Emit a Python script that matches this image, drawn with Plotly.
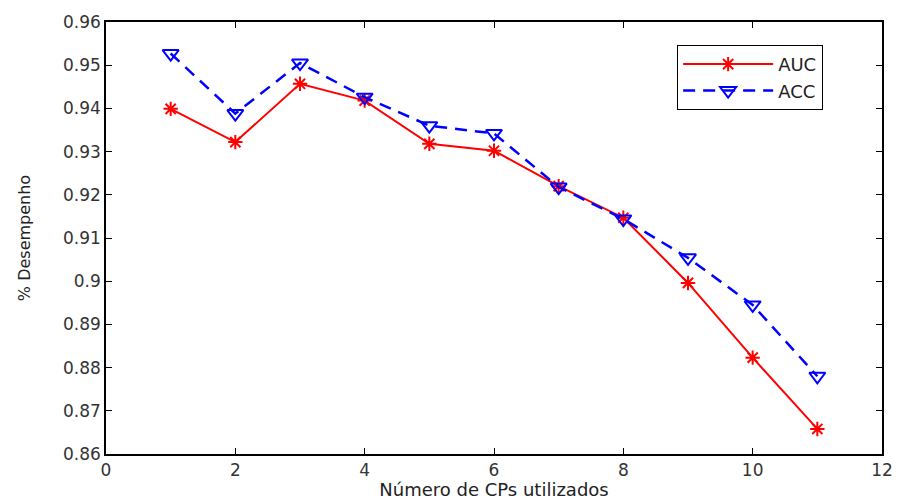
import plotly.graph_objects as go

n_cps = [1, 2, 3, 4, 5, 6, 7, 8, 9, 10, 11]
auc = [0.9399, 0.9322, 0.9457, 0.9418, 0.9318, 0.9302, 0.9220, 0.9147, 0.8996, 0.8823, 0.8658]
acc = [0.9527, 0.9388, 0.9505, 0.9426, 0.9360, 0.9342, 0.9218, 0.9144, 0.9054, 0.8945, 0.8780]

y_ticks = [0.86, 0.87, 0.88, 0.89, 0.90, 0.91, 0.92, 0.93, 0.94, 0.95, 0.96]
y_labels = ["0.86", "0.87", "0.88", "0.89", "0.9", "0.91", "0.92", "0.93", "0.94", "0.95", "0.96"]
x_ticks = [0, 2, 4, 6, 8, 10, 12]

font = "DejaVu Sans, Arial, sans-serif"

fig = go.Figure()
fig.add_trace(go.Scatter(
    x=n_cps, y=auc, name="AUC", mode="lines+markers",
    line=dict(color="#FF0000", width=2),
    marker=dict(symbol="asterisk-open", size=12, color="#FF0000",
                line=dict(color="#FF0000", width=2)),
))
fig.add_trace(go.Scatter(
    x=n_cps, y=acc, name="ACC", mode="lines+markers",
    line=dict(color="#0000FF", width=2.5, dash="12px,8px"),
    marker=dict(symbol="triangle-down-open", size=14, color="#0000FF",
                line=dict(color="#0000FF", width=2)),
))

axis_common = dict(
    showline=True, linecolor="#000000", linewidth=1.5, mirror="ticks",
    ticks="inside", ticklen=6, tickcolor="#000000", tickwidth=1,
    showgrid=False, zeroline=False, automargin=False,
    tickfont=dict(family=font, size=17, color="#333333"),
)

fig.update_layout(
    width=900, height=500,
    margin=dict(l=106, r=18, t=22, b=46),
    paper_bgcolor="#FFFFFF", plot_bgcolor="#FFFFFF",
    font=dict(family=font, size=16, color="#222222"),
    xaxis=dict(range=[0, 12], tickvals=x_ticks, **axis_common,
               title=dict(text="Número de CPs utilizados", standoff=1,
                          font=dict(family=font, size=18, color="#222222"))),
    yaxis=dict(range=[0.86, 0.96], tickvals=y_ticks, ticktext=y_labels, **axis_common,
               title=dict(text="% Desempenho", standoff=28,
                          font=dict(family=font, size=16, color="#222222"))),
    legend=dict(x=0.736, y=0.947, xanchor="left", yanchor="top",
                bgcolor="#FFFFFF", bordercolor="#000000", borderwidth=1,
                font=dict(family=font, size=18, color="#222222"),
                itemwidth=90, tracegroupgap=0),
    showlegend=True,
)

fig.write_html("out.html")
